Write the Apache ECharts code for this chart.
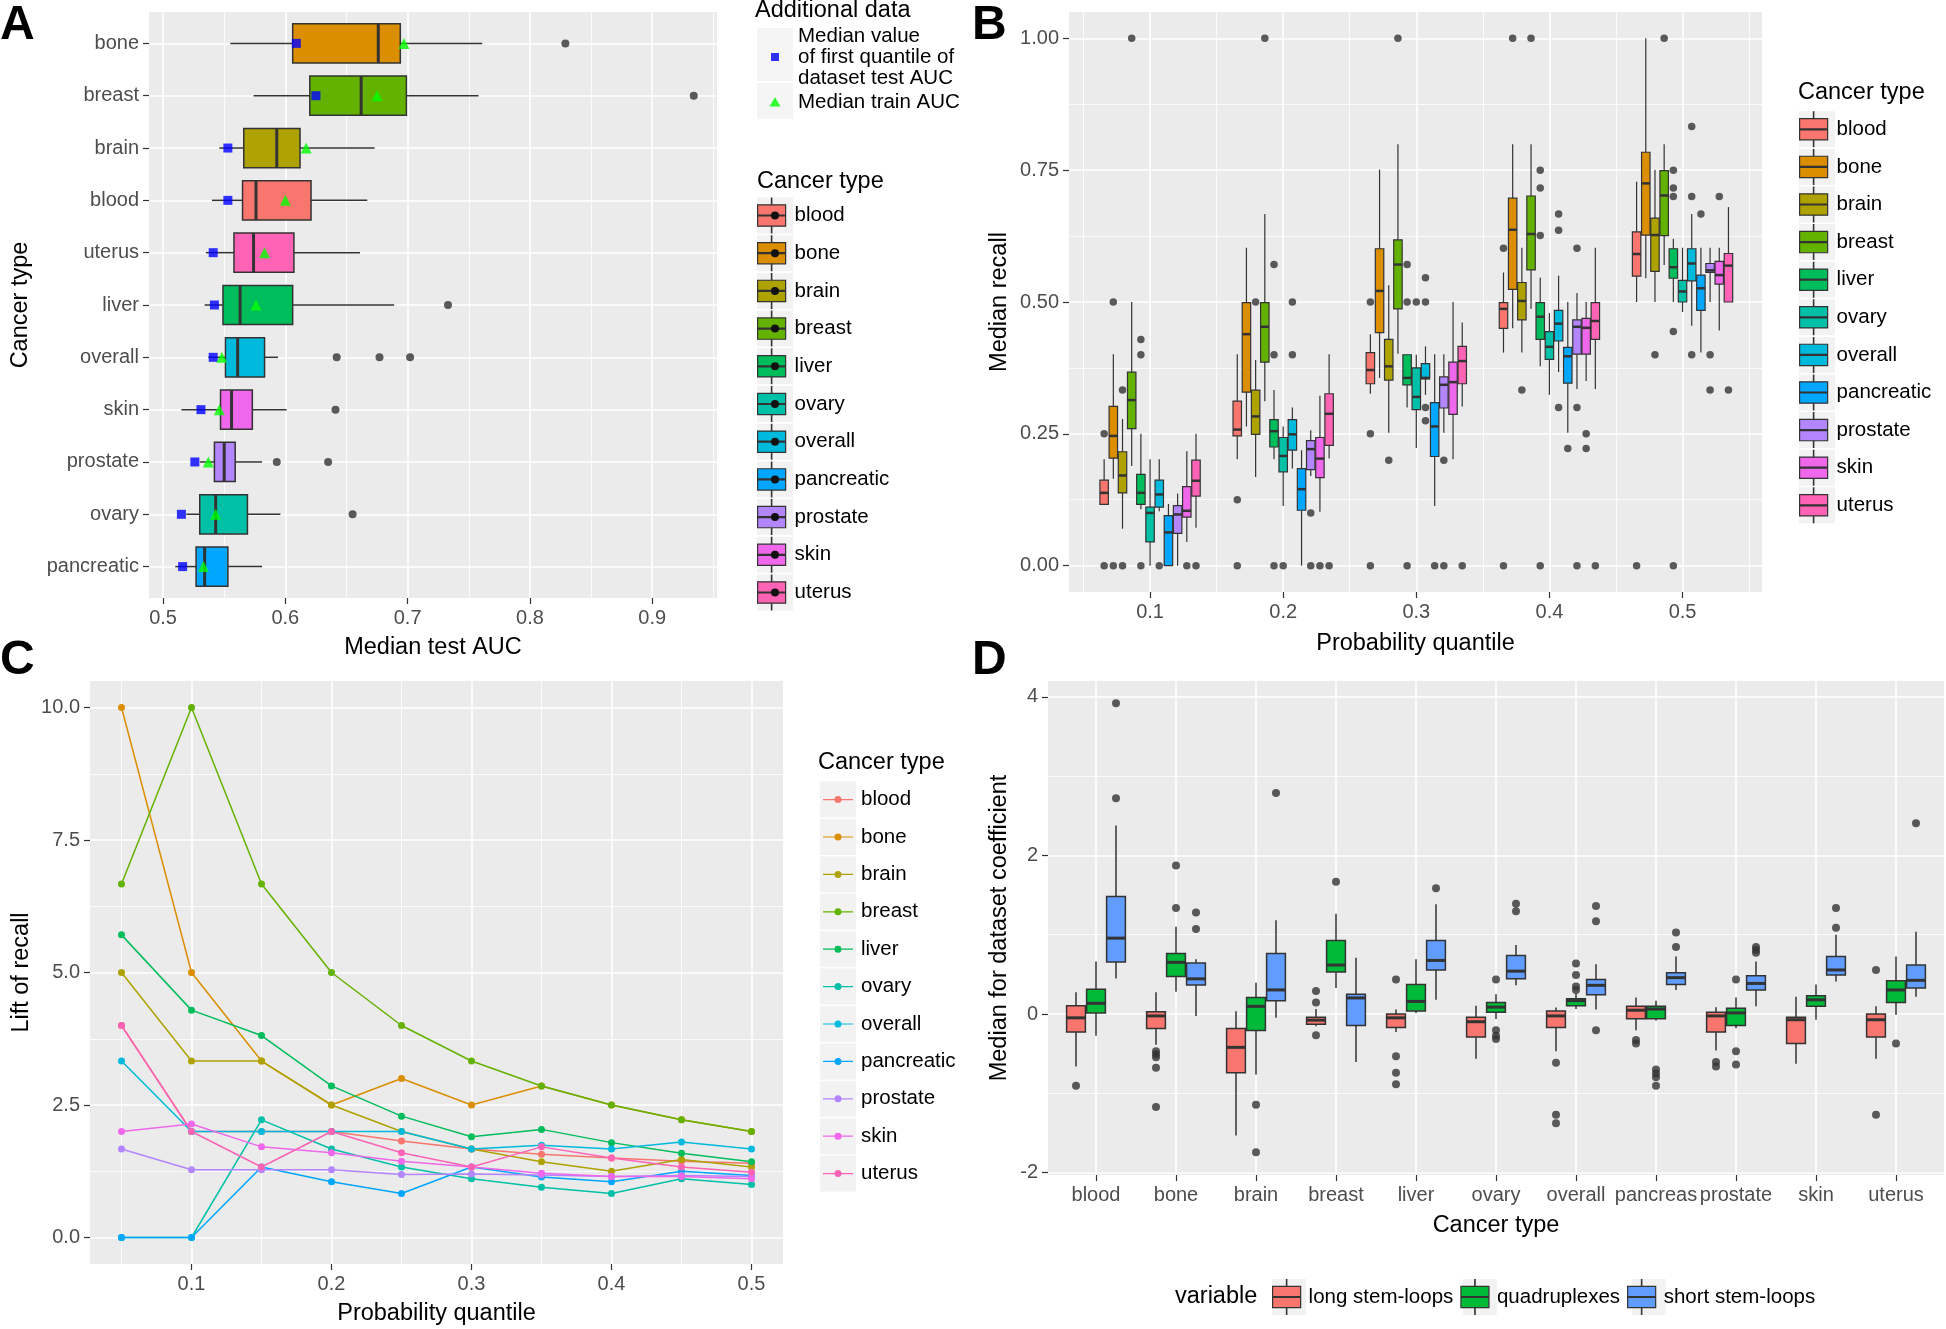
<!DOCTYPE html>
<html><head><meta charset="utf-8">
<script src="https://cdn.jsdelivr.net/npm/echarts@6/dist/echarts.min.js"></script>
<style>html,body{margin:0;padding:0;background:#fff}#chart{width:1946px;height:1329px}</style>
</head><body><div id="chart"></div>
<script>
// ---------------- DATA ----------------
const cancerTypes = ['blood','bone','brain','breast','liver','ovary','overall','pancreatic','prostate','skin','uterus'];

// Panel A: median test AUC per cancer type (display order, top to bottom)
const aucOrder = ['bone','breast','brain','blood','uterus','liver','overall','skin','prostate','ovary','pancreatic'];
const aucLow  = [0.555,0.574,0.546,0.540,0.535,0.534,0.537,0.515,0.530,0.519,0.510];
const aucQ1   = [0.606,0.620,0.566,0.565,0.558,0.549,0.551,0.547,0.542,0.530,0.527];
const aucMed  = [0.676,0.662,0.593,0.576,0.574,0.563,0.561,0.556,0.550,0.543,0.534];
const aucQ3   = [0.694,0.699,0.612,0.621,0.607,0.606,0.583,0.573,0.559,0.569,0.553];
const aucHigh = [0.761,0.758,0.673,0.667,0.661,0.689,0.594,0.601,0.581,0.596,0.581];
const aucOutliers = [[0.829],[0.934],[],[],[],[0.733],[0.642,0.677,0.702],[0.641],[0.593,0.635],[0.655],[]];
const aucFirstQuantile = [0.609,0.625,0.553,0.553,0.541,0.542,0.541,0.531,0.526,0.515,0.516];
const aucTrain = [0.697,0.675,0.617,0.600,0.583,0.576,0.548,0.546,0.537,0.543,0.533];
const aucTicks = [0.5,0.6,0.7,0.8,0.9];

// Panel B: median recall [low, q1, median, q3, high] per probability quantile
const quantilesB = [0.1,0.2,0.3,0.4,0.5];
const recallBlood = [[0.115,0.116,0.138,0.162,0.202],[0.202,0.246,0.258,0.312,0.401],[0.326,0.345,0.371,0.404,0.439],[0.404,0.450,0.487,0.499,0.556],[0.500,0.549,0.591,0.633,0.728]];
const recallBone = [[0.165,0.204,0.246,0.302,0.401],[0.264,0.329,0.439,0.499,0.603],[0.356,0.442,0.521,0.601,0.751],[0.450,0.524,0.637,0.697,0.799],[0.545,0.627,0.725,0.784,1.000]];
const recallBrain = [[0.070,0.138,0.171,0.216,0.278],[0.168,0.249,0.283,0.333,0.390],[0.252,0.352,0.378,0.429,0.532],[0.404,0.466,0.502,0.537,0.603],[0.500,0.558,0.627,0.659,0.751]];
const recallBreast = [[0.189,0.260,0.314,0.367,0.500],[0.312,0.386,0.453,0.499,0.667],[0.402,0.487,0.571,0.618,0.799],[0.487,0.561,0.629,0.701,0.799],[0.570,0.626,0.702,0.749,0.799]];
const recallLiver = [[0.107,0.116,0.138,0.173,0.250],[0.202,0.225,0.255,0.277,0.333],[0.300,0.343,0.356,0.400,0.400],[0.378,0.429,0.472,0.499,0.546],[0.500,0.545,0.566,0.601,0.620]];
const recallOvary = [[0.000,0.045,0.100,0.111,0.202],[0.113,0.178,0.208,0.243,0.264],[0.223,0.296,0.320,0.375,0.400],[0.324,0.391,0.415,0.444,0.479],[0.481,0.500,0.520,0.541,0.603]];
const recallOverall = [[0.103,0.111,0.135,0.162,0.202],[0.184,0.219,0.249,0.277,0.300],[0.324,0.354,0.356,0.383,0.416],[0.367,0.426,0.459,0.484,0.550],[0.455,0.540,0.573,0.601,0.667]];
const recallPancreatic = [[0.000,0.000,0.063,0.095,0.117],[0.000,0.105,0.145,0.184,0.219],[0.113,0.207,0.264,0.309,0.401],[0.252,0.346,0.397,0.414,0.500],[0.404,0.484,0.526,0.551,0.603]];
const recallProstate = [[0.000,0.061,0.097,0.114,0.137],[0.170,0.182,0.221,0.237,0.257],[0.252,0.299,0.343,0.358,0.401],[0.335,0.401,0.453,0.466,0.517],[0.500,0.556,0.560,0.573,0.603]];
const recallSkin = [[0.045,0.092,0.104,0.150,0.217],[0.102,0.167,0.203,0.243,0.322],[0.202,0.287,0.348,0.386,0.500],[0.350,0.401,0.451,0.469,0.500],[0.446,0.534,0.551,0.577,0.603]];
const recallUterus = [[0.072,0.132,0.161,0.200,0.250],[0.203,0.228,0.288,0.326,0.401],[0.302,0.345,0.388,0.416,0.461],[0.335,0.429,0.464,0.499,0.603],[0.500,0.500,0.569,0.592,0.680]];
const recallBloodOut = [[0.25,0],[0.125,0],[0.5,0.25,0],[0.602,0],[0]];
const recallBoneOut = [[0.5,0],[],[],[1.0],[]];
const recallBrainOut = [[0.333,0],[0.5],[0.2],[0.333],[0.4]];
const recallBreastOut = [[1.0],[1.0],[1.0],[1.0],[1.0]];
const recallLiverOut = [[0.429,0.4,0],[0.571,0.4,0],[0.571,0.5,0],[0.75,0.716,0.626,0],[0.75,0.716,0.7,0.444,0]];
const recallOvaryOut = [[],[0],[0.5],[],[]];
const recallOverallOut = [[0],[0.5,0.4],[0.546,0.5,0.3,0.275],[0.667,0.636,0.3],[0.833,0.7,0.4]];
const recallPancreaticOut = [[],[],[0],[0.222],[0.667]];
const recallProstateOut = [[],[0.1,0],[0.2,0],[0.602,0.3,0],[0.4,0.333]];
const recallSkinOut = [[0],[0],[],[0.25,0.222],[0.7]];
const recallUterusOut = [[0],[0],[0],[0],[0.333]];
const recallTicks = [0,0.25,0.5,0.75,1.0];

// Panel C: lift of recall per probability quantile
const quantilesC = [0.05,0.1,0.15,0.2,0.25,0.3,0.35,0.4,0.45,0.5];
const liftBlood      = [4.0,2.0,2.0,2.0,1.82,1.67,1.57,1.5,1.44,1.4];
const liftBone       = [10.0,5.0,3.33,2.5,3.0,2.5,2.86,2.5,2.22,2.0];
const liftBrain      = [5.0,3.33,3.33,2.5,2.0,1.67,1.43,1.25,1.47,1.33];
const liftBreast     = [6.67,10.0,6.67,5.0,4.0,3.33,2.86,2.5,2.22,2.0];
const liftLiver      = [5.71,4.29,3.81,2.86,2.29,1.9,2.04,1.79,1.59,1.43];
const liftOvary      = [0,0,2.22,1.67,1.33,1.11,0.95,0.83,1.11,1.0];
const liftOverall    = [3.33,2.0,2.0,2.0,2.0,1.67,1.74,1.67,1.8,1.67];
const liftPancreatic = [0,0,1.33,1.05,0.83,1.33,1.14,1.05,1.25,1.17];
const liftProstate   = [1.67,1.28,1.28,1.28,1.19,1.2,1.18,1.15,1.17,1.15];
const liftSkin       = [2.0,2.14,1.71,1.6,1.44,1.33,1.21,1.15,1.15,1.11];
const liftUterus     = [4.0,2.0,1.33,2.0,1.6,1.33,1.71,1.5,1.33,1.23];
const liftTicks = [0,2.5,5,7.5,10];
const quantileTicks = [0.1,0.2,0.3,0.4,0.5];

// Panel D: median for dataset coefficient [low, q1, median, q3, high]
const coefCats = ['blood','bone','brain','breast','liver','ovary','overall','pancreas','prostate','skin','uterus'];
const coefVariables = ['long stem-loops','quadruplexes','short stem-loops'];
const coefLong = [[-0.662,-0.227,-0.048,0.106,0.275],[-0.386,-0.184,-0.024,0.029,0.275],[-1.531,-0.739,-0.42,-0.184,0.034],[-0.155,-0.13,-0.077,-0.039,0.063],[-0.227,-0.169,-0.048,0.0,0.058],[-0.565,-0.29,-0.097,-0.039,0.106],[-0.469,-0.169,-0.024,0.039,0.082],[-0.203,-0.058,0.048,0.097,0.208],[-0.459,-0.227,-0.024,0.024,0.087],[-0.628,-0.372,-0.072,-0.039,0.217],[-0.565,-0.29,-0.072,0.0,0.097]];
const coefQuad = [[-0.275,0.0145,0.135,0.314,0.662],[0.28,0.473,0.652,0.763,1.101],[-0.763,-0.208,0.097,0.208,0.396],[0.329,0.531,0.618,0.927,1.266],[0.0145,0.039,0.159,0.372,0.691],[-0.063,0.024,0.087,0.145,0.251],[0.063,0.106,0.169,0.193,0.256],[-0.082,-0.058,0.063,0.097,0.169],[-0.179,-0.145,0.0145,0.072,0.208],[-0.072,0.097,0.179,0.232,0.372],[-0.01,0.145,0.304,0.42,0.725]];
const coefShort = [[0.449,0.657,0.957,1.483,2.377],[-0.024,0.367,0.444,0.643,0.691],[-0.048,0.169,0.304,0.763,1.184],[-0.604,-0.145,0.203,0.251,0.71],[0.179,0.556,0.676,0.927,1.386],[0.362,0.444,0.541,0.739,0.87],[0.058,0.242,0.362,0.435,0.628],[0.304,0.372,0.459,0.522,0.725],[0.097,0.304,0.386,0.483,0.662],[0.411,0.493,0.556,0.725,1.0],[0.217,0.329,0.425,0.618,1.039]];
const coefLongOut = [[-0.903],[-0.469,-0.507,-0.546,-0.676,-1.174],[],[0.29,0.145,-0.266],[0.435,-0.531,-0.739,-0.884],[],[-0.614,-1.27,-1.377],[-0.329,-0.372],[-0.604,-0.662],[],[0.556,-1.27]];
const coefQuadOut = [[],[1.338,1.874],[-1.145,-1.744],[1.667],[],[0.435,-0.203,-0.275,-0.314],[0.638,0.493,0.348,0.304],[-0.7,-0.749,-0.797,-0.903],[0.435,-0.469,-0.638],[],[-0.372]];
const coefShortOut = [[2.72,3.918],[1.072,1.28],[2.787],[],[1.585],[1.295,1.391],[1.169,1.362,-0.203],[0.845,1.029],[0.773,0.81,0.845],[1.087,1.338],[2.406]];
const coefTicks = [-2,0,2,4];

// ---------------- STYLE ----------------
const FONT = "'Liberation Sans', Arial, Helvetica, sans-serif";
const hueColors = ['#F8766D','#DB8E00','#AEA200','#64B200','#00BD5C','#00C1A7','#00BADE','#00A6FF','#B385FF','#EF67EB','#FF63B6'];
const varColors = ['#F8766D','#00BA38','#619CFF'];
const BOX_STROKE = '#333333';
const DODGE_B = 0.0069;
const DODGE_D = 0.25;

const recallStats = [recallBlood,recallBone,recallBrain,recallBreast,recallLiver,recallOvary,recallOverall,recallPancreatic,recallProstate,recallSkin,recallUterus];
const recallOuts = [recallBloodOut,recallBoneOut,recallBrainOut,recallBreastOut,recallLiverOut,recallOvaryOut,recallOverallOut,recallPancreaticOut,recallProstateOut,recallSkinOut,recallUterusOut];
const liftSeries = [liftBlood,liftBone,liftBrain,liftBreast,liftLiver,liftOvary,liftOverall,liftPancreatic,liftProstate,liftSkin,liftUterus];
const coefStats = [coefLong,coefQuad,coefShort];
const coefOuts = [coefLongOut,coefQuadOut,coefShortOut];

function boxRenderer(horizontal, widthUnits, lw, mw) {
  return function (params, api) {
    const pos = api.value(0);
    const vals = [1,2,3,4,5].map(i => api.value(i));
    const P = vals.map(v => horizontal ? api.coord([v, pos]) : api.coord([pos, v]));
    const span = horizontal ? api.size([0, widthUnits])[1] : api.size([widthUnits, 0])[0];
    const half = Math.abs(span) / 2;
    const fill = api.visual('color');
    const st = {stroke: BOX_STROKE, lineWidth: lw};
    let kids;
    if (horizontal) {
      const y = P[0][1];
      kids = [
        {type:'line', shape:{x1:P[0][0], y1:y, x2:P[1][0], y2:y}, style:st},
        {type:'line', shape:{x1:P[3][0], y1:y, x2:P[4][0], y2:y}, style:st},
        {type:'rect', shape:{x:Math.min(P[1][0],P[3][0]), y:y-half, width:Math.abs(P[3][0]-P[1][0]), height:2*half}, style:{fill:fill, stroke:BOX_STROKE, lineWidth:lw}},
        {type:'line', shape:{x1:P[2][0], y1:y-half, x2:P[2][0], y2:y+half}, style:{stroke:BOX_STROKE, lineWidth:mw}}
      ];
    } else {
      const x = P[0][0];
      kids = [
        {type:'line', shape:{x1:x, y1:P[0][1], x2:x, y2:P[1][1]}, style:st},
        {type:'line', shape:{x1:x, y1:P[3][1], x2:x, y2:P[4][1]}, style:st},
        {type:'rect', shape:{x:x-half, y:Math.min(P[1][1],P[3][1]), width:2*half, height:Math.abs(P[3][1]-P[1][1])}, style:{fill:fill, stroke:BOX_STROKE, lineWidth:lw}},
        {type:'line', shape:{x1:x-half, y1:P[2][1], x2:x+half, y2:P[2][1]}, style:{stroke:BOX_STROKE, lineWidth:mw}}
      ];
    }
    return {type:'group', children:kids};
  };
}

function majorAxis(gridIndex, min, max, ticks, fmt, extra) {
  return Object.assign({
    type:'value', gridIndex:gridIndex, min:min, max:max,
    axisLine:{show:false, onZero:false},
    axisTick:{show:true, length:6, customValues:ticks, lineStyle:{color:'#333333', width:1.2}},
    axisLabel:{show:true, customValues:ticks, formatter:fmt, color:'#4D4D4D', fontSize:20, fontFamily:FONT, margin:10},
    splitLine:{show:true, lineStyle:{color:'#FFFFFF', width:1.6}},
    nameLocation:'middle',
    nameTextStyle:{color:'#000000', fontSize:23.5, fontFamily:FONT}
  }, extra);
}
function minorAxis(gridIndex, min, max, ticks, position, extra) {
  return Object.assign({
    type:'value', gridIndex:gridIndex, min:min, max:max, position:position,
    axisLine:{show:false, onZero:false},
    axisTick:{show:false, customValues:ticks},
    axisLabel:{show:false, customValues:ticks},
    splitLine:{show:ticks.length > 0, lineStyle:{color:'#FFFFFF', width:0.8}}
  }, extra);
}

const fmt1 = v => v.toFixed(1);
const fmt2 = v => v.toFixed(2);

const grids = [
  {left:149, top:12, width:568, height:586},
  {left:1069, top:12, width:693, height:580},
  {left:90, top:681, width:693, height:583},
  {left:1048, top:681, width:896, height:494}
].map(g => Object.assign({show:true, backgroundColor:'#EBEBEB', borderWidth:0}, g));

const xAxes = [
  majorAxis(0, 0.4885, 0.953, aucTicks, fmt1, {position:'bottom', name:'Median test AUC', nameGap:38}),
  minorAxis(0, 0.4885, 0.953, [0.55,0.65,0.75,0.85,0.95], 'top'),
  majorAxis(1, 0.0391, 0.5597, quantileTicks, fmt1, {position:'bottom', name:'Probability quantile', nameGap:40}),
  minorAxis(1, 0.0391, 0.5597, [0.05,0.15,0.25,0.35,0.45,0.55], 'top'),
  majorAxis(2, 0.0275, 0.5225, quantileTicks, fmt1, {position:'bottom', name:'Probability quantile', nameGap:38}),
  minorAxis(2, 0.0275, 0.5225, [0.05,0.15,0.25,0.35,0.45], 'top'),
  majorAxis(3, -0.6, 10.6, coefCats.map((c,i) => i), v => coefCats[Math.round(v)], {position:'bottom', name:'Cancer type', nameGap:39}),
  minorAxis(3, -0.6, 10.6, [], 'top')
];
const yAxes = [
  majorAxis(0, -0.6, 10.6, aucOrder.map((c,i) => i), v => aucOrder[Math.round(v)], {position:'left', inverse:true, name:'Cancer type', nameGap:116}),
  minorAxis(0, -0.6, 10.6, [], 'right', {inverse:true}),
  majorAxis(1, -0.05, 1.05, recallTicks, fmt2, {position:'left', name:'Median recall', nameGap:57}),
  minorAxis(1, -0.05, 1.05, [0.125,0.375,0.625,0.875], 'right'),
  majorAxis(2, -0.5, 10.5, liftTicks, fmt1, {position:'left', name:'Lift of recall', nameGap:56}),
  minorAxis(2, -0.5, 10.5, [1.25,3.75,6.25,8.75], 'right'),
  majorAxis(3, -2.03, 4.2, coefTicks, v => String(v), {position:'left', name:'Median for dataset coefficient', nameGap:36}),
  minorAxis(3, -2.03, 4.2, [-1,1,3], 'right')
];

// ---------------- SERIES ----------------
const series = [];
// Panel A boxes
cancerTypes.forEach((c, k) => {
  const d = aucOrder.indexOf(c);
  series.push({
    type:'custom', name:c + '|A', xAxisIndex:0, yAxisIndex:0, z:2, silent:true,
    itemStyle:{color:hueColors[k]},
    renderItem: boxRenderer(true, 0.75, 1.5, 3),
    data:[[d, aucLow[d], aucQ1[d], aucMed[d], aucQ3[d], aucHigh[d]]]
  });
});
const outA = [];
aucOutliers.forEach((arr, d) => arr.forEach(v => outA.push([v, d])));
series.push({type:'scatter', name:'outliers A', xAxisIndex:0, yAxisIndex:0, z:3, silent:true, symbol:'circle', symbolSize:8, itemStyle:{color:'#333333'}, data:outA});
series.push({type:'scatter', name:'firstq|A', xAxisIndex:0, yAxisIndex:0, z:4, silent:true, symbol:'rect', symbolSize:9, itemStyle:{color:'#0000FF'}, data:aucFirstQuantile.map((v,d) => [v, d])});
series.push({type:'scatter', name:'train|A', xAxisIndex:0, yAxisIndex:0, z:5, silent:true, symbol:'triangle', symbolSize:11, itemStyle:{color:'#00FF00'}, data:aucTrain.map((v,d) => [v, d])});

// Panel B boxes
const outB = [];
cancerTypes.forEach((c, k) => {
  const off = (k - 5) * DODGE_B;
  series.push({
    type:'custom', name:c + '|B', xAxisIndex:2, yAxisIndex:2, z:2, silent:true,
    itemStyle:{color:hueColors[k]},
    renderItem: boxRenderer(false, DODGE_B * 0.92, 1.2, 2.5),
    data: quantilesB.map((q, j) => [q + off].concat(recallStats[k][j]))
  });
  recallOuts[k].forEach((arr, j) => arr.forEach(v => outB.push([quantilesB[j] + off, v])));
});
series.push({type:'scatter', name:'outliers B', xAxisIndex:2, yAxisIndex:2, z:3, silent:true, symbol:'circle', symbolSize:7.5, itemStyle:{color:'#333333'}, data:outB});

// Panel C lines
cancerTypes.forEach((c, k) => {
  series.push({
    type:'line', name:c + '|C', xAxisIndex:4, yAxisIndex:4, z:2, silent:true,
    symbol:'circle', symbolSize:7, showSymbol:true,
    itemStyle:{color:hueColors[k]}, lineStyle:{color:hueColors[k], width:1.5},
    data: quantilesC.map((q, i) => [q, liftSeries[k][i]])
  });
});

// Panel D boxes
const outD = [];
coefVariables.forEach((v, m) => {
  const off = (m - 1) * DODGE_D;
  series.push({
    type:'custom', name:v + '|D', xAxisIndex:6, yAxisIndex:6, z:2, silent:true,
    itemStyle:{color:varColors[m]},
    renderItem: boxRenderer(false, 0.235, 1.5, 3),
    data: coefCats.map((c, i) => [i + off].concat(coefStats[m][i]))
  });
  coefOuts[m].forEach((arr, i) => arr.forEach(val => outD.push([i + off, val])));
});
series.push({type:'scatter', name:'outliers D', xAxisIndex:6, yAxisIndex:6, z:3, silent:true, symbol:'circle', symbolSize:8, itemStyle:{color:'#333333'}, data:outD});

// ---------------- LEGENDS ----------------
const legendLabels = {'firstq|A':'Median value\nof first quantile of\ndataset test AUC', 'train|A':'Median train AUC'};
const labelOf = n => legendLabels[n] || n.split('|')[0];
const txt = {fontSize:20.5, color:'#000000', fontFamily:FONT};
const hid = {fontSize:20.5, color:'rgba(0,0,0,0)', fontFamily:FONT};
const BOX_ICON = 'path://M17.8,0H18.2V7H17.8Z M17.8,29H18.2V36H17.8Z M3.5,7H32.5V29H3.5Z M3.5,17.5H32.5V18.5H3.5Z';
const DOT_ICON = 'path://M0,0h.01v.01h-.01Z M36,36h.01v.01h-.01Z M14,18A4,4 0 1,1 22,18A4,4 0 1,1 14,18Z';
const LINE_ICON = 'path://M0,0h.01v.01h-.01Z M36,36h.01v.01h-.01Z M3,17.4H33V18.6H3Z M14.5,18A3.5,3.5 0 1,1 21.5,18A3.5,3.5 0 1,1 14.5,18Z';
const SQ_ICON = 'path://M0,0h.01v.01h-.01Z M36,66h.01v.01h-.01Z M14,29H22V37H14Z';
const TRI_ICON = 'path://M0,0h.01v.01h-.01Z M36,36h.01v.01h-.01Z M12.5,22.5L18,13L23.5,22.5Z';

function keyLegend(base, names, itemFn, textStyle, z) {
  return Object.assign({
    orient:'vertical', padding:0, selectedMode:false, itemWidth:36, itemHeight:36,
    formatter:labelOf, textStyle:textStyle, z:z,
    data: names.map((n, i) => Object.assign({name:n}, itemFn(n, i)))
  }, base);
}
const bgItem = () => ({icon:'rect', itemStyle:{color:'#F2F2F2', borderWidth:0}});
const boxItem = cols => (n, i) => ({icon:BOX_ICON, itemStyle:{color:cols[i], borderColor:BOX_STROKE, borderWidth:1.2}});
const namesA = cancerTypes.map(c => c + '|A');
const namesB = cancerTypes.map(c => c + '|B');
const namesC = cancerTypes.map(c => c + '|C');
const namesD = coefVariables.map(v => v + '|D');
const posA = {left:757, top:197.5, itemGap:1.7};
const posB = {left:1799, top:111.3, itemGap:1.6};
const posC = {left:820, top:781.6, itemGap:1.4};
const posD = {left:1272, top:1279, itemGap:7, orient:'horizontal', itemWidth:34};
// box keys are stroked, so their icon is drawn 1.2px shorter to keep the same item height
const boxKey = base => Object.assign({}, base, {itemHeight:34.8});

const legends = [
  keyLegend(posA, namesA, bgItem, hid, 3),
  keyLegend(boxKey(posA), namesA, boxItem(hueColors), txt, 4),
  keyLegend(posA, namesA, () => ({icon:DOT_ICON, itemStyle:{color:'#111111', borderWidth:0}}), hid, 5),
  keyLegend({left:757, top:28, itemHeight:53, formatter:() => ''}, ['firstq|A'], bgItem, hid, 3),
  keyLegend({left:757, top:83, formatter:() => ''}, ['train|A'], bgItem, hid, 3),
  keyLegend({left:757, top:24, itemHeight:66}, ['firstq|A'], () => ({icon:SQ_ICON, itemStyle:{color:'#0000FF', borderWidth:0}}), Object.assign({lineHeight:21}, txt), 4),
  keyLegend({left:757, top:84}, ['train|A'], () => ({icon:TRI_ICON, itemStyle:{color:'#00FF00', borderWidth:0}}), txt, 4),
  keyLegend(posB, namesB, bgItem, hid, 3),
  keyLegend(boxKey(posB), namesB, boxItem(hueColors), txt, 4),
  keyLegend(posC, namesC, bgItem, hid, 3),
  keyLegend(posC, namesC, (n,i) => ({icon:LINE_ICON, itemStyle:{color:hueColors[i], borderWidth:0}}), txt, 4),
  keyLegend(posD, namesD, bgItem, hid, 3),
  keyLegend(boxKey(posD), namesD, boxItem(varColors), txt, 4)
];

const letter = (t, left, top) => ({text:t, left:left, top:top, padding:0, textStyle:{fontSize:48, fontWeight:'bold', color:'#000000', fontFamily:FONT}});
const heading = (t, left, top) => ({text:t, left:left, top:top, padding:0, textStyle:{fontSize:23.5, fontWeight:'normal', color:'#000000', fontFamily:FONT, lineHeight:24}});

const option = {
  animation:false,
  backgroundColor:'#FFFFFF',
  textStyle:{fontFamily:FONT},
  title:[
    letter('A', 0, 2), letter('B', 972, 2), letter('C', 0, 637), letter('D', 972, 637),
    heading('Additional data', 755, -1),
    heading('Cancer type', 757, 170),
    heading('Cancer type', 1798, 81),
    heading('Cancer type', 818, 751),
    heading('variable', 1175, 1285)
  ],
  grid:grids,
  xAxis:xAxes,
  yAxis:yAxes,
  legend:legends,
  series:series
};

const chart = echarts.init(document.getElementById('chart'), null, {renderer:'canvas', width:1946, height:1329});
chart.setOption(option);
</script>
</body></html>
